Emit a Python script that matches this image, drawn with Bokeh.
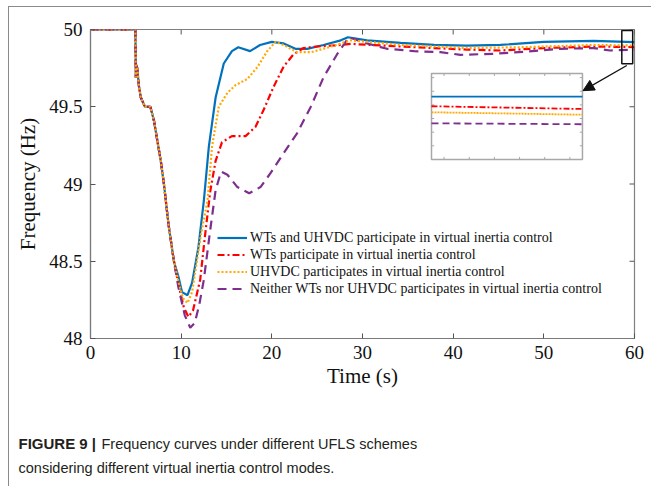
from bokeh.plotting import figure
from bokeh.layouts import column, row
from bokeh.models import (Legend, LegendItem, Range1d, FixedTicker,
                          PrintfTickFormatter, Label, Arrow, NormalHead)
from bokeh.embed import file_html
from bokeh.resources import INLINE

# ---------------- data ----------------
t_common = [0, 4.95, 5.0, 5.05, 5.15, 5.35, 5.55, 6.0, 6.6, 7.0, 7.4, 7.75, 8.1, 8.6, 9.2]
f_common = [50, 50, 49.69, 49.77, 49.75, 49.63, 49.56, 49.50, 49.50, 49.41, 49.27, 49.15, 49.00, 48.74, 48.50]

t_both = [9.7, 10.1, 10.7, 11.2, 11.9, 12.5, 13.05, 13.8, 14.7, 15.6, 16.3, 17.6, 18.7, 20.0, 21.3,
          22.6, 23.9, 25.7, 27.6, 28.4, 30.5, 34.2, 37.9, 41.5, 45.2, 50.0, 55.5, 60.0]
f_both = [48.40, 48.30, 48.28, 48.36, 48.59, 48.89, 49.24, 49.56, 49.78, 49.86, 49.885, 49.86, 49.90,
          49.92, 49.91, 49.875, 49.875, 49.90, 49.93, 49.95, 49.93, 49.914, 49.90, 49.896, 49.90,
          49.92, 49.927, 49.918]

t_wt = [9.7, 10.3, 10.8, 11.3, 12.1, 12.6, 13.2, 13.8, 14.5, 15.6, 17.1, 18.2, 19.1, 20.2, 21.3,
        22.4, 23.5, 25.0, 27.6, 28.7, 34.2, 41.5, 45.2, 50.0, 55.5, 60.0]
f_wt = [48.35, 48.20, 48.14, 48.18, 48.38, 48.65, 48.95, 49.15, 49.27, 49.31, 49.31, 49.37, 49.48,
        49.63, 49.76, 49.84, 49.88, 49.89, 49.90, 49.907, 49.89, 49.87, 49.864, 49.88, 49.89, 49.886]

t_dc = [9.7, 10.2, 10.7, 11.2, 11.6, 12.2, 12.9, 13.4, 14.15, 15.1, 16.0, 17.3, 18.4, 19.5, 20.4,
        21.3, 22.8, 24.3, 25.7, 27.6, 28.7, 34.2, 41.5, 48.2, 55.5, 60.0]
f_dc = [48.37, 48.26, 48.23, 48.30, 48.45, 48.68, 48.89, 49.24, 49.50, 49.59, 49.64, 49.68, 49.756,
        49.86, 49.92, 49.90, 49.853, 49.853, 49.875, 49.91, 49.93, 49.90, 49.88, 49.886, 49.90, 49.896]

t_none = [9.7, 10.4, 11.0, 11.5, 12.0, 12.5, 13.2, 13.8, 14.4, 15.1, 16.2, 17.5, 18.75, 19.85, 21.3,
          22.8, 24.3, 25.7, 27.2, 28.5, 30.5, 32.7, 35.7, 38.6, 40.8, 44.5, 48.2, 51.8, 55.5, 57.3, 60.0]
f_none = [48.33, 48.15, 48.07, 48.10, 48.22, 48.38, 48.70, 48.96, 49.08, 49.06, 48.98, 48.94, 48.98,
          49.07, 49.20, 49.33, 49.50, 49.69, 49.84, 49.95, 49.91, 49.875, 49.86, 49.853, 49.836,
          49.843, 49.857, 49.875, 49.88, 49.864, 49.87]

labels = ["WTs and UHVDC participate in virtual inertia control",
          "WTs participate in virtual inertia control",
          "UHVDC participates in virtual inertia control",
          "Neither WTs nor UHVDC participates in virtual inertia control"]

x_ticks = [0, 10, 20, 30, 40, 50, 60]
y_ticks = [48, 48.5, 49, 49.5, 50]

# inset (zoomed view near t = 59 s)
inset_t = [58.6, 59.8]
inset_both = [49.906, 49.906]
inset_wt = [49.899, 49.897]
inset_dc = [49.8946, 49.8928]
inset_none = [49.8865, 49.8858]
inset_xlim = (58.6, 59.8)
inset_ylim = (49.86, 49.923)
inset_xticks = [58.7, 58.9, 59.1, 59.3, 59.5, 59.7]
inset_yticks = [49.87, 49.88, 49.89, 49.90, 49.91, 49.92]
zoom_box_y = (49.778, 49.994)

caption_bold = "FIGURE 9 |"
caption_line1 = "Frequency curves under different UFLS schemes"
caption_line2 = "considering different virtual inertia control modes."

# ---------------- figure ----------------
SERIF = "Liberation Serif"
W = 642
X0, X1, Y0, Y1 = 0, 60, 48, 50
p = figure(width=W, height=391, output_backend="svg", toolbar_location=None,
           x_range=Range1d(X0, X1), y_range=Range1d(Y0, Y1),
           min_border_left=81, min_border_right=17, min_border_top=22, min_border_bottom=60)
p.xgrid.visible = False
p.ygrid.visible = False
p.outline_line_color = "#808080"
p.outline_line_width = 1.2

AX = "#7a7a7a"
TICK = "#555555"

for ax, ticks in ((p.xaxis[0], x_ticks), (p.yaxis[0], y_ticks)):
    ax.ticker = FixedTicker(ticks=ticks)
    ax.minor_tick_line_color = None
    ax.major_tick_in = 5
    ax.major_tick_out = 0
    ax.major_tick_line_color = TICK
    ax.axis_line_color = AX
    ax.axis_line_width = 1.2
    ax.major_label_text_font = SERIF
    ax.major_label_text_font_size = "19px"
    ax.major_label_text_color = "#111111"
    ax.formatter = PrintfTickFormatter(format="%g")
    ax.axis_label_text_font = SERIF
    ax.axis_label_text_font_size = "21px"
    ax.axis_label_text_font_style = "normal"
    ax.axis_label_text_color = "#111111"
p.xaxis[0].major_label_standoff = 7
p.yaxis[0].major_label_standoff = 8
p.xaxis[0].axis_label = "Time (s)"
p.yaxis[0].axis_label = "Frequency (Hz)"
p.xaxis[0].axis_label_standoff = 2
p.yaxis[0].axis_label_standoff = 6

# inward ticks on the top and right edges of the box (5 px long)
tick_dy = 5 / 154.5
tick_dx = 5 / 9.067
p.segment(x0=x_ticks, y0=[Y1] * len(x_ticks), x1=x_ticks, y1=[Y1 - tick_dy] * len(x_ticks),
          line_color=TICK, line_width=1)
p.segment(x0=[X1] * len(y_ticks), y0=y_ticks, x1=[X1 - tick_dx] * len(y_ticks), y1=y_ticks,
          line_color=TICK, line_width=1)

BLUE, RED, ORANGE, PURPLE = "#0072BD", "#FF0000", "#FFA800", "#7E2F8E"

r_both = p.line(t_common + t_both, f_common + f_both, line_color=BLUE, line_width=2.2)
r_wt = p.line(t_common + t_wt, f_common + f_wt, line_color=RED, line_width=2.2, line_dash="7 3 2 3")
r_none = p.line(t_common + t_none, f_common + f_none, line_color=PURPLE, line_width=2.2, line_dash="9 6")
r_dc = p.line(t_common + t_dc, f_common + f_dc, line_color=ORANGE, line_width=2.2, line_dash="2 2")

legend = Legend(items=[LegendItem(label=labels[0], renderers=[r_both]),
                       LegendItem(label=labels[1], renderers=[r_wt]),
                       LegendItem(label=labels[2], renderers=[r_dc]),
                       LegendItem(label=labels[3], renderers=[r_none])],
                location=(127, 41), orientation="vertical",
                label_text_font=SERIF, label_text_font_size="14px", label_text_color="#111111",
                glyph_width=30, glyph_height=17, label_height=17, label_standoff=3,
                spacing=0, padding=0, margin=0,
                background_fill_alpha=0, border_line_alpha=0)
p.add_layout(legend, "center")

# ---------------- inset ----------------
ib_left, ib_right, ib_bottom, ib_top = 37.61, 54.26, 49.159, 49.715

def ix(t):
    return [ib_left + (v - inset_xlim[0]) / (inset_xlim[1] - inset_xlim[0]) * (ib_right - ib_left) for v in t]

def iy(f):
    return [ib_bottom + (v - inset_ylim[0]) / (inset_ylim[1] - inset_ylim[0]) * (ib_top - ib_bottom) for v in f]

p.quad(left=[ib_left], right=[ib_right], bottom=[ib_bottom], top=[ib_top],
       fill_color="white", line_color="#a8a8a8", line_width=1.5)
tx = ix(inset_xticks)
ty = iy(inset_yticks)
tl_x, tl_y = 0.3, 0.016
p.segment(x0=tx, y0=[ib_top] * len(tx), x1=tx, y1=[ib_top - tl_y] * len(tx), line_color="#a8a8a8", line_width=1)
p.segment(x0=tx, y0=[ib_bottom] * len(tx), x1=tx, y1=[ib_bottom + tl_y] * len(tx), line_color="#a8a8a8", line_width=1)
p.segment(x0=[ib_left] * len(ty), y0=ty, x1=[ib_left + tl_x] * len(ty), y1=ty, line_color="#a8a8a8", line_width=1)
p.segment(x0=[ib_right] * len(ty), y0=ty, x1=[ib_right - tl_x] * len(ty), y1=ty, line_color="#a8a8a8", line_width=1)

p.line(ix(inset_t), iy(inset_both), line_color=BLUE, line_width=1.8)
p.line(ix(inset_t), iy(inset_wt), line_color=RED, line_width=1.8, line_dash="6 2 2 2")
p.line(ix(inset_t), iy(inset_dc), line_color=ORANGE, line_width=1.8, line_dash="2 1")
p.line(ix(inset_t), iy(inset_none), line_color=PURPLE, line_width=1.8, line_dash="7 4")

# zoom indicator box and arrow
p.quad(left=[inset_xlim[0]], right=[inset_xlim[1]], bottom=[zoom_box_y[0]], top=[zoom_box_y[1]],
       fill_alpha=0, line_color="#111111", line_width=1.5)
p.add_layout(Arrow(x_start=59.15, y_start=49.767, x_end=54.32, y_end=49.604,
                   line_color="#111111", line_width=1.3,
                   end=NormalHead(size=11, fill_color="#111111", line_color="#111111")))

# ---------------- caption (separate svg figure below) ----------------
CAP = "Liberation Sans"
CH = 88
cap = figure(width=W, height=CH, output_backend="svg", toolbar_location=None,
             x_range=Range1d(0, W), y_range=Range1d(CH, 0),
             x_axis_type=None, y_axis_type=None,
             min_border_left=0, min_border_right=0, min_border_top=0, min_border_bottom=0)
cap.xgrid.visible = False
cap.ygrid.visible = False
cap.outline_line_color = None
cap.add_layout(Label(x=9, y=45, text=caption_bold, text_font=CAP,
                     text_font_size="15px", text_font_style="bold", text_color="#231f20",
                     text_baseline="middle"))
cap.add_layout(Label(x=92, y=45, text=caption_line1,
                     text_font=CAP, text_font_size="14.5px", text_color="#231f20",
                     text_baseline="middle"))
cap.add_layout(Label(x=9, y=69, text=caption_line2,
                     text_font=CAP, text_font_size="14.5px", text_color="#231f20",
                     text_baseline="middle"))

layout = column(p, row(cap, spacing=0), spacing=0)
layout.styles = {"border-top": "1px solid #8a8a8a", "border-left": "1px solid #8a8a8a",
                 "margin-left": "8px", "margin-top": "6px"}

open("out.html", "w").write(file_html(layout, INLINE))
